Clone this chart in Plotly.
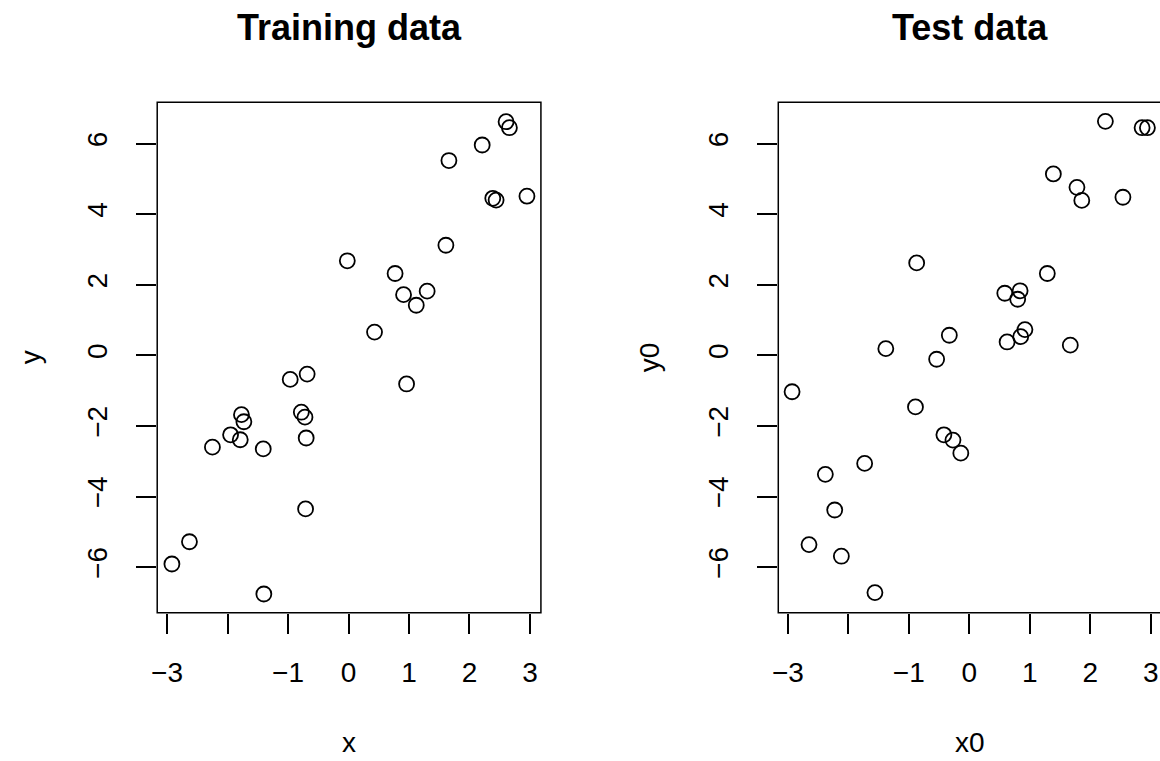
import plotly.graph_objects as go

# ---- data ----
train_x = [2.605, 2.66, 2.21, 1.66, 2.385, 2.44, 2.95, 1.61, -0.02, 0.77, 1.30, 0.91, 1.12, 0.43,
           -0.684, -0.964, 0.96, -1.77, -1.73, -0.78, -0.72, -1.95, -1.79, -2.25, -1.41, -0.70,
           -0.71, -2.63, -2.92, -1.40]
train_y = [6.62, 6.45, 5.96, 5.52, 4.45, 4.40, 4.51, 3.12, 2.68, 2.32, 1.82, 1.72, 1.42, 0.66,
           -0.53, -0.68, -0.81, -1.68, -1.88, -1.61, -1.75, -2.25, -2.39, -2.60, -2.65, -2.34,
           -4.35, -5.28, -5.91, -6.76]

test_x = [2.25, 2.857, 2.945, 1.39, 1.78, 1.86, 2.54, -0.87, 1.29, 0.84, 0.587, 0.80, 0.92, 0.85,
          -0.33, 0.625, 1.67, -1.38, -0.54,
          -2.93, -0.89, -0.42, -0.27, -0.14, -1.73, -2.38, -2.225, -2.65, -2.115, -1.56]
test_y = [6.63, 6.45, 6.45, 5.14, 4.76, 4.39, 4.48, 2.62, 2.32, 1.83, 1.76, 1.59, 0.73, 0.53,
          0.57, 0.38, 0.29, 0.19, -0.11,
          -1.03, -1.46, -2.25, -2.40, -2.77, -3.06, -3.37, -4.38, -5.36, -5.69, -6.72]

x_ticks = [-3, -2, -1, 0, 1, 2, 3]
x_ticktext = ["\u22123", "", "\u22121", "0", "1", "2", "3"]
y_ticks = [-6, -4, -2, 0, 2, 4, 6]
y_ticktext = ["\u22126", "\u22124", "\u22122", "0", "2", "4", "6"]

titles = ["Training data", "Test data"]
xlabels = ["x", "x0"]
ylabels = ["y", "y0"]

# ---- layout geometry (pixels) ----
W, H = 1160, 761
FONT = "Liberation Sans, Arial, Helvetica, sans-serif"
TICK_SIZE = 28
TITLE_SIZE = 36

box_top, box_bot = 102.3, 612.7
left_box = (152.0, 537.7)
right_box = (776.3, 1162.0)

def px(x):
    return x / W

def py(y):
    return 1 - y / H

fig = go.Figure()

marker = dict(symbol="circle-open", size=15, color="black", line=dict(width=1.8, color="black"))
fig.add_trace(go.Scatter(x=train_x, y=train_y, mode="markers", marker=marker,
                         xaxis="x", yaxis="y", showlegend=False, cliponaxis=False))
fig.add_trace(go.Scatter(x=test_x, y=test_y, mode="markers", marker=marker,
                         xaxis="x2", yaxis="y2", showlegend=False, cliponaxis=False))

common_x = dict(tickvals=x_ticks, ticktext=x_ticktext, ticks="outside", ticklen=20, tickwidth=1.5,
                tickcolor="black", showgrid=False, zeroline=False, showline=False,
                tickfont=dict(family=FONT, size=TICK_SIZE, color="black"), ticklabelstandoff=15,
                fixedrange=True)
common_y = dict(tickvals=y_ticks, ticktext=y_ticktext, ticks="outside", ticklen=20, tickwidth=1.5,
                tickcolor="black", showgrid=False, zeroline=False, showline=False, tickangle=-90,
                tickfont=dict(family=FONT, size=TICK_SIZE, color="black"), ticklabelstandoff=18,
                fixedrange=True)

y_dom = [py(box_bot), py(box_top)]
fig.update_layout(
    width=W, height=H,
    margin=dict(l=0, r=0, t=0, b=0),
    paper_bgcolor="white", plot_bgcolor="white",
    font=dict(family=FONT, color="black"),
    xaxis=dict(domain=[px(left_box[0]), px(left_box[1])], range=[-3.163, 3.181], anchor="y", **common_x),
    yaxis=dict(domain=y_dom, range=[-7.29, 7.17], anchor="x", **common_y),
    xaxis2=dict(domain=[px(right_box[0]), 1.0], range=[-3.158, 3.153], anchor="y2", **common_x),
    yaxis2=dict(domain=y_dom, range=[-7.29, 7.17], anchor="x2", **common_y),
)

# frames (R box())
for (bx0, bx1) in (left_box, right_box):
    fig.add_shape(type="rect", xref="paper", yref="paper",
                  x0=px(bx0), x1=px(bx1), y0=py(box_bot), y1=py(box_top),
                  line=dict(color="black", width=1.5), fillcolor="rgba(0,0,0,0)", layer="above")

# titles and axis labels
centers = [(left_box[0] + left_box[1]) / 2, (right_box[0] + right_box[1]) / 2]
ylab_x = [25, 647]
for i in range(2):
    fig.add_annotation(text="<b>%s</b>" % titles[i], xref="paper", yref="paper",
                       x=px(centers[i]), y=py(27), showarrow=False,
                       xanchor="center", yanchor="middle",
                       font=dict(family=FONT, size=TITLE_SIZE, color="black"))
    fig.add_annotation(text=xlabels[i], xref="paper", yref="paper",
                       x=px(centers[i]), y=py(760), showarrow=False,
                       xanchor="center", yanchor="bottom",
                       font=dict(family=FONT, size=TICK_SIZE, color="black"))
    fig.add_annotation(text=ylabels[i], xref="paper", yref="paper", textangle=-90,
                       x=px(ylab_x[i]), y=py((box_top + box_bot) / 2), showarrow=False,
                       xanchor="center", yanchor="middle",
                       font=dict(family=FONT, size=TICK_SIZE, color="black"))

fig.write_html("out.html", config={"displayModeBar": False},
               post_script="document.body.style.margin='0';document.body.style.overflow='hidden';")
